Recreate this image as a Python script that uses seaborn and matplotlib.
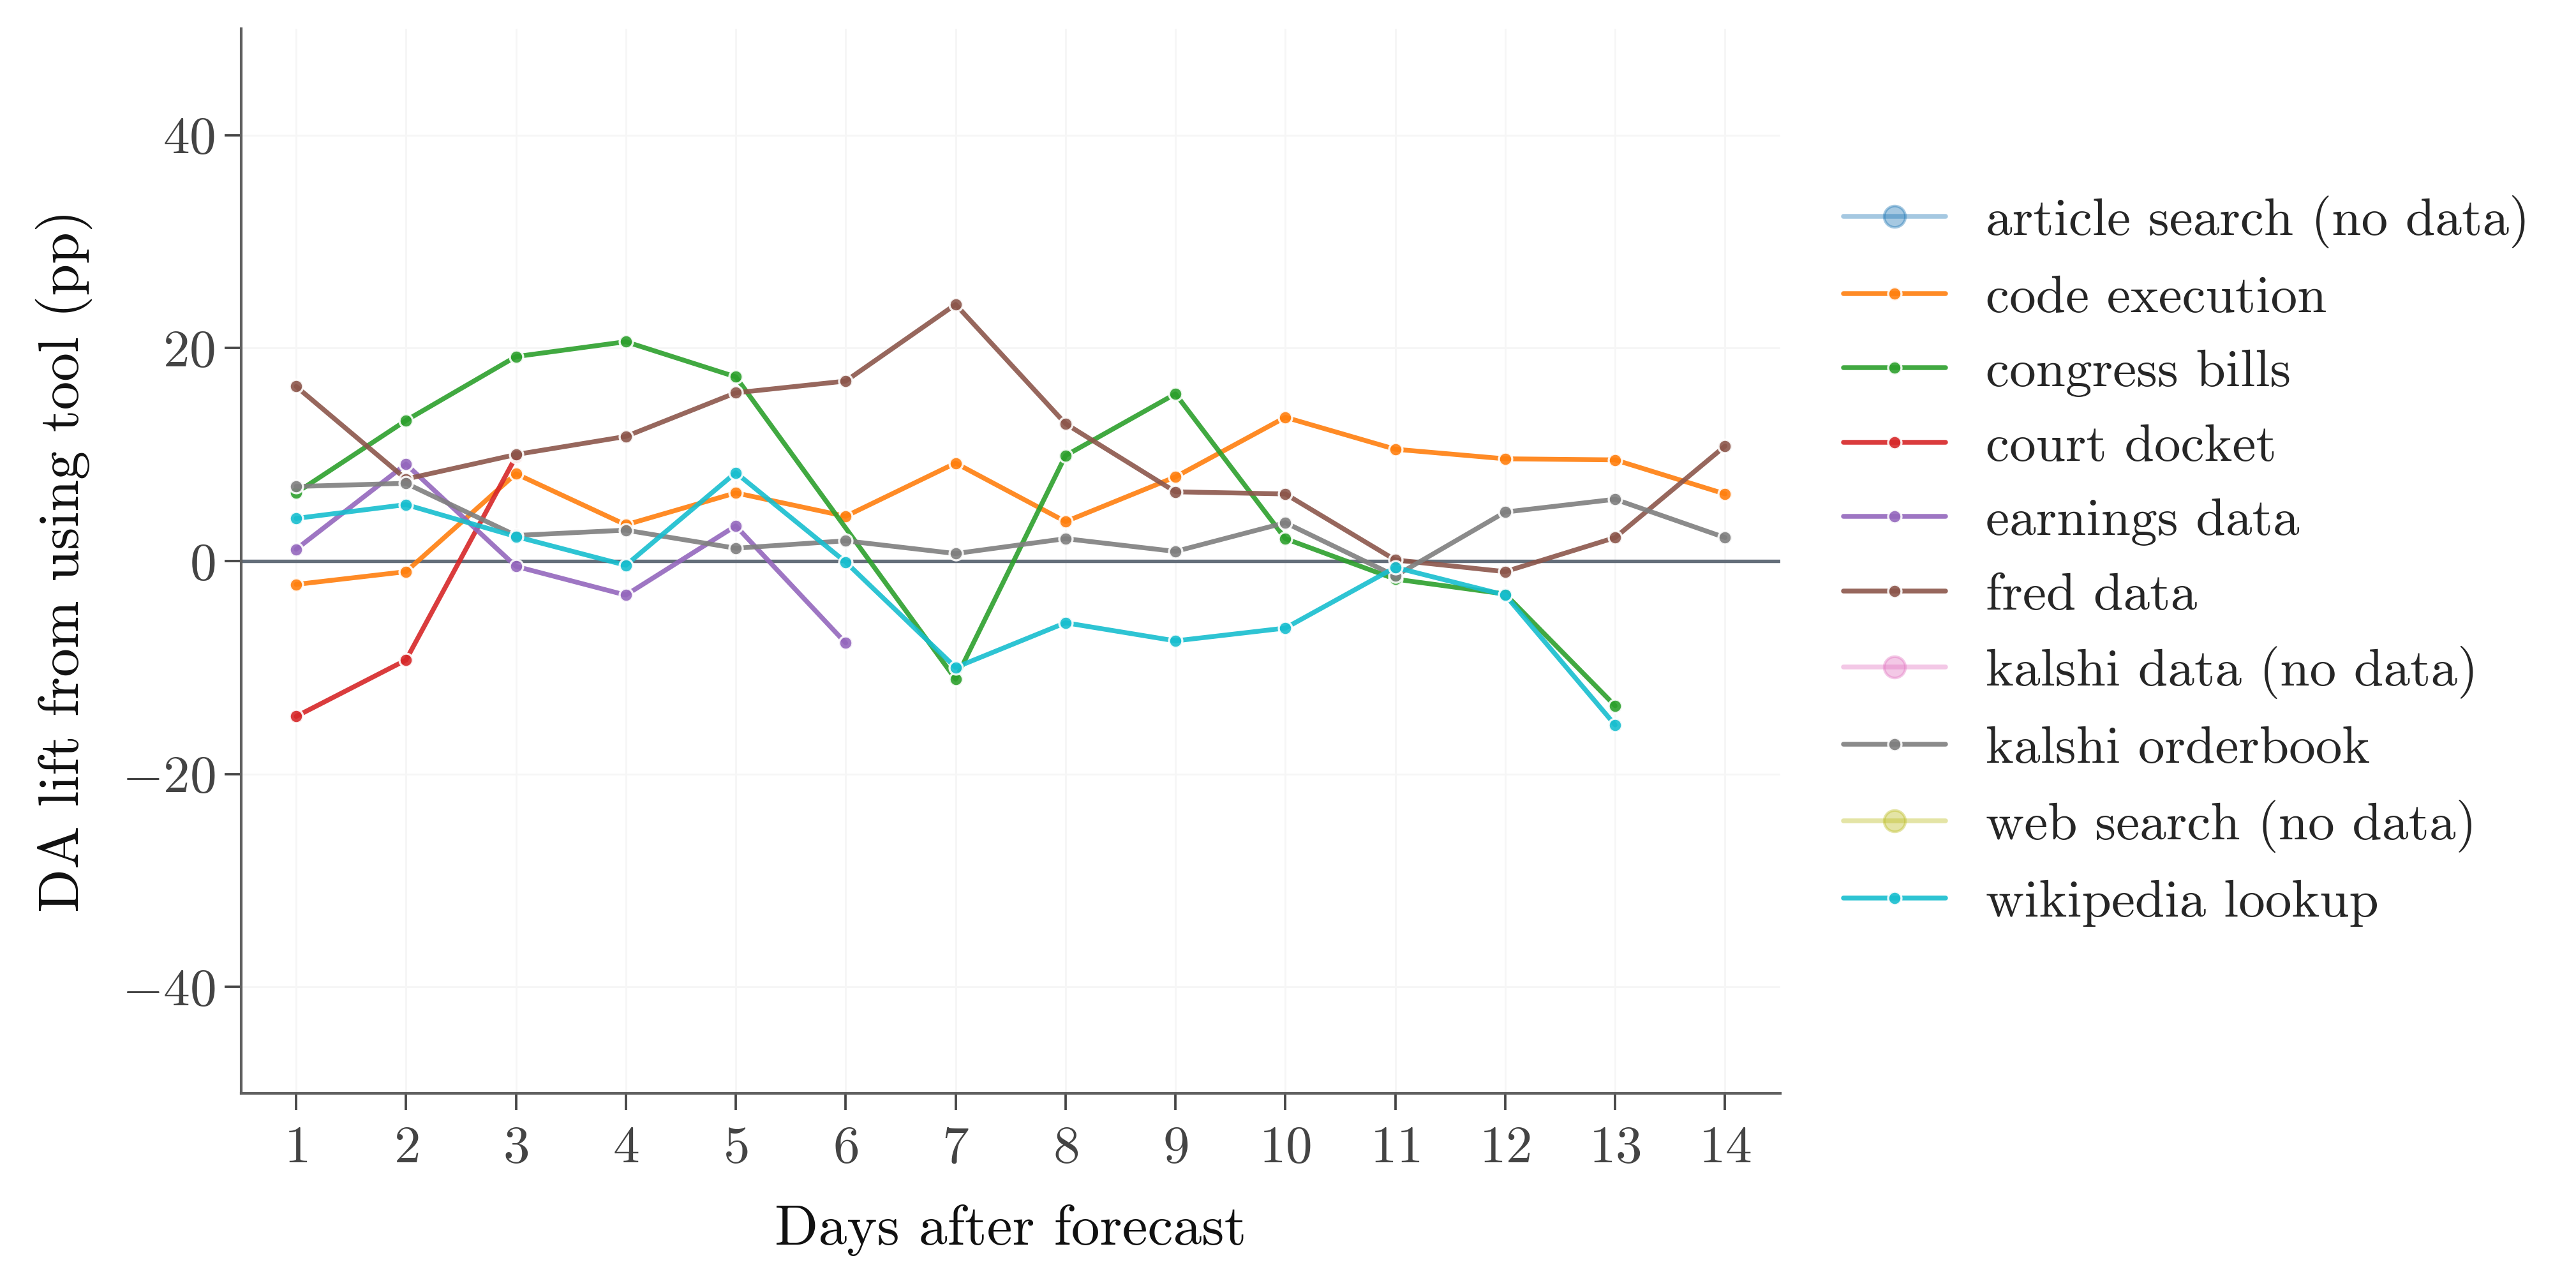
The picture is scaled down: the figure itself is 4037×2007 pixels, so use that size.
import numpy as np
import pandas as pd
import seaborn as sns
import matplotlib.pyplot as plt
from matplotlib.lines import Line2D

# Days after forecast
days = list(range(1, 15))

# DA lift per tool (pp), None where the tool has no value for that day
code_execution = [-2.2, -1.0, 8.2, 3.4, 6.4, 4.2, 9.2, 3.7, 7.9, 13.5, 10.5, 9.6, 9.5, 6.3]
congress_bills = [6.4, 13.2, 19.2, 20.6, 17.3, None, -11.1, 9.9, 15.7, 2.1, -1.7, -3.1, -13.6, None]
court_docket = [-14.6, -9.3, 9.8, None, None, None, None, None, None, None, None, None, None, None]
earnings_data = [1.1, 9.1, -0.5, -3.2, 3.3, -7.7, None, None, None, None, None, None, None, None]
fred_data = [16.4, 7.7, 10.0, 11.7, 15.8, 16.9, 24.1, 12.9, 6.5, 6.3, 0.1, -1.0, 2.2, 10.8]
kalshi_orderbook = [7.0, 7.3, 2.4, 2.9, 1.2, 1.9, 0.7, 2.1, 0.9, 3.6, -1.4, 4.6, 5.8, 2.2]
wikipedia_lookup = [4.0, 5.3, 2.3, -0.4, 8.3, -0.1, -10.0, -5.8, -7.5, -6.3, -0.6, -3.2, -15.4, None]

series = {
    'code execution': code_execution,
    'congress bills': congress_bills,
    'court docket': court_docket,
    'earnings data': earnings_data,
    'fred data': fred_data,
    'kalshi orderbook': kalshi_orderbook,
    'wikipedia lookup': wikipedia_lookup,
}
no_data = ['article search', 'kalshi data', 'web search']

all_tools = ['article search', 'code execution', 'congress bills', 'court docket',
             'earnings data', 'fred data', 'kalshi data', 'kalshi orderbook',
             'web search', 'wikipedia lookup']
palette = dict(zip(all_tools, sns.color_palette('tab10', 10)))

rows = []
for tool, vals in series.items():
    for d, v in zip(days, vals):
        if v is not None:
            rows.append({'day': d, 'lift': v, 'tool': tool})
df = pd.DataFrame(rows)

sns.set_style('ticks')
plt.rcParams['font.family'] = ['cmr10', 'DejaVu Sans']
plt.rcParams['mathtext.fontset'] = 'cm'
plt.rcParams['axes.formatter.use_mathtext'] = True

fig, ax = plt.subplots(figsize=(4037 / 300, 2007 / 300), dpi=300)
fig.subplots_adjust(left=0.0936, right=0.691, top=0.9776, bottom=0.1465)

ax.grid(True, color='#f6f6f6', lw=0.7, zorder=0)
ax.axhline(0, color='#646e7a', lw=1.3, zorder=1)

present = list(series.keys())
sns.lineplot(data=df, x='day', y='lift', hue='tool', hue_order=present,
             palette=palette, marker='o', markersize=5, markeredgecolor='white',
             markeredgewidth=0.8, lw=1.8, alpha=0.9, legend=False, ax=ax, zorder=3)

ax.set_xlim(0.5, 14.5)
ax.set_ylim(-50, 50)
ax.set_xticks(days)
ax.set_yticks([-40, -20, 0, 20, 40])
ax.set_xlabel('Days after forecast', fontsize=21.5, color='#111111', labelpad=12)
ax.set_ylabel('DA lift from using tool (pp)', fontsize=21.5, color='#111111', labelpad=11)
ax.tick_params(labelsize=20, colors='#444444', length=6.2, width=0.9)
ax.tick_params(axis='x', pad=6)

sns.despine(ax=ax)
for side in ['left', 'bottom']:
    ax.spines[side].set_color('#606060')
    ax.spines[side].set_linewidth(1.0)

handles = []
labels = []
for tool in all_tools:
    if tool in no_data:
        h = Line2D([], [], color=palette[tool], lw=1.8, alpha=0.4, marker='o',
                   markersize=8, markeredgecolor=palette[tool])
        labels.append(tool + ' (no data)')
    else:
        h = Line2D([], [], color=palette[tool], lw=1.8, alpha=0.9, marker='o',
                   markersize=5, markeredgecolor='white', markeredgewidth=0.8)
        labels.append(tool)
    handles.append(h)

ax.legend(handles, labels, loc='center left', bbox_to_anchor=(1.01, 0.5),
          frameon=False, fontsize=20, labelspacing=0.5, handlelength=1.92,
          handletextpad=0.76)

plt.savefig('out.png', dpi=300)
